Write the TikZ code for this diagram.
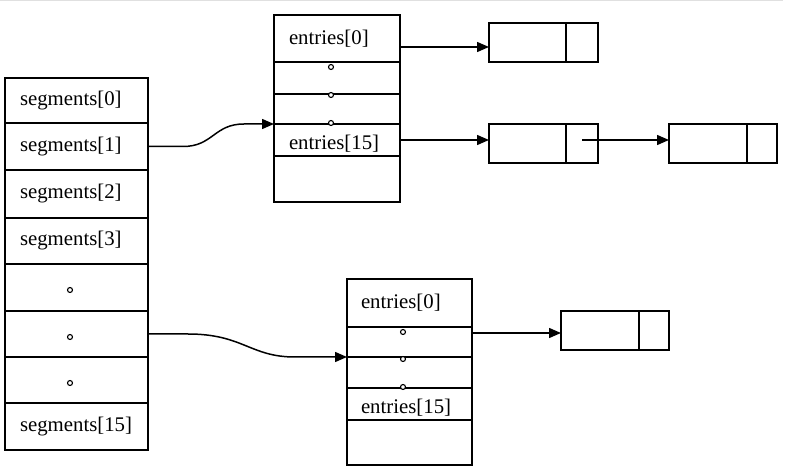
\documentclass[tikz,border=0pt]{standalone}
\usepackage{fontspec}
\setmainfont{Liberation Serif}
\usetikzlibrary{arrows.meta}
\begin{document}
\begin{tikzpicture}[x=1pt,y=-1pt,line width=1.5pt,
  cell/.style={draw, rectangle, anchor=north west, inner ysep=0pt, outer sep=0pt,
    align=left, font=\fontsize{20.8}{24}\selectfont},
  segcell/.style={cell, text width=113pt, inner xsep=15pt, minimum height=#1},
  entcellA/.style={cell, text width=96pt, inner xsep=15pt, minimum height=#1},
  entcellB/.style={cell, text width=97pt, inner xsep=14pt, minimum height=#1},
  lowtext/.style={text height=19pt, text depth=0pt},
  listcell/.style={draw, rectangle, anchor=north west, inner sep=0pt, outer sep=0pt,
    minimum height=39pt, minimum width=#1},
  dotmark/.style={circle, draw, fill=white, inner sep=0pt, minimum size=5pt, line width=1.1pt},
  arr/.style={-{Triangle[length=12pt,width=10pt]}}]
\useasboundingbox (0,0) rectangle (801,470);
\fill[white] (0,0) rectangle (801,470);
\draw[black!12, line width=1pt] (0,0.5) -- (783,0.5);

% segments array
\node[segcell=45pt] (s0) at (5,78) {segments[0]};
\node[segcell=47pt] (s1) at (5,123) {segments[1]};
\node[segcell=48pt] (s2) at (5,170) {segments[2]};
\node[segcell=46pt] (s3) at (5,218) {segments[3]};
\node[segcell=47pt] (s4) at (5,264) {};
\node[segcell=46pt] (s5) at (5,311) {};
\node[segcell=46pt] (s6) at (5,357) {};
\node[segcell=47pt] (s7) at (5,403) {segments[15]};
\node[dotmark] (sd4) at (70,290) {};
\node[dotmark] (sd5) at (70,337) {};
\node[dotmark] (sd6) at (70,383) {};

% first entries table
\node[entcellA=47pt] (e1r0) at (274,15) {entries[0]};
\node[entcellA=32pt] (e1r1) at (274,62) {};
\node[entcellA=30pt] (e1r2) at (274,94) {};
\node[entcellA=32pt, lowtext] (e1r3) at (274,124) {entries[15]};
\node[entcellA=46pt] (e1r4) at (274,156) {};
\node[dotmark] (e1d1) at (331,67) {};
\node[dotmark] (e1d2) at (331,95) {};
\node[dotmark] (e1d3) at (331,123) {};

% second entries table
\node[entcellB=48pt] (e2r0) at (347,279) {entries[0]};
\node[entcellB=30pt] (e2r1) at (347,327) {};
\node[entcellB=31pt] (e2r2) at (347,357) {};
\node[entcellB=32pt, lowtext] (e2r3) at (347,388) {entries[15]};
\node[entcellB=45pt] (e2r4) at (347,420) {};
\node[dotmark] (e2d1) at (403,332) {};
\node[dotmark] (e2d2) at (403,359) {};
\node[dotmark] (e2d3) at (403,387) {};

% list nodes
\node[listcell=77pt] (a1) at (489,23) {};
\node[listcell=32pt] (a2) at (566,23) {};
\node[listcell=77pt] (b1) at (489,124) {};
\node[listcell=32pt] (b2) at (566,124) {};
\node[listcell=78pt] (c1) at (669,124) {};
\node[listcell=30pt] (c2) at (747,124) {};
\node[listcell=78pt] (d1) at (561,311) {};
\node[listcell=30pt] (d2) at (639,311) {};

% arrow end points
\coordinate (pA) at ([yshift=-4.5pt]a1.west);
\coordinate (pB) at ([yshift=3.5pt]b1.west);
\coordinate (pC) at ([yshift=3.5pt]c1.west);
\coordinate (pD) at ([yshift=-2.5pt]d1.west);
\coordinate (t1) at ([xshift=-30pt]e1r2.south west);
\coordinate (t2) at ([xshift=-52pt]e2r1.south west);

% connectors
\draw[arr] (s1.east) -- ++(35,0) .. controls +(30,0) and +(-30,0) .. (t1) -- (e1r2.south west);
\draw[arr] (s5.east) -- ++(40,0) .. controls +(55,0) and +(-45,0) .. (t2) -- (e2r1.south west);
\draw[arr] (pA -| e1r0.east) -- (pA);
\draw[arr] (pB -| e1r3.east) -- (pB);
\draw[arr] (b2.center |- pC) -- (pC);
\draw[arr] (pD -| e2r1.east) -- (pD);
\end{tikzpicture}
\end{document}
